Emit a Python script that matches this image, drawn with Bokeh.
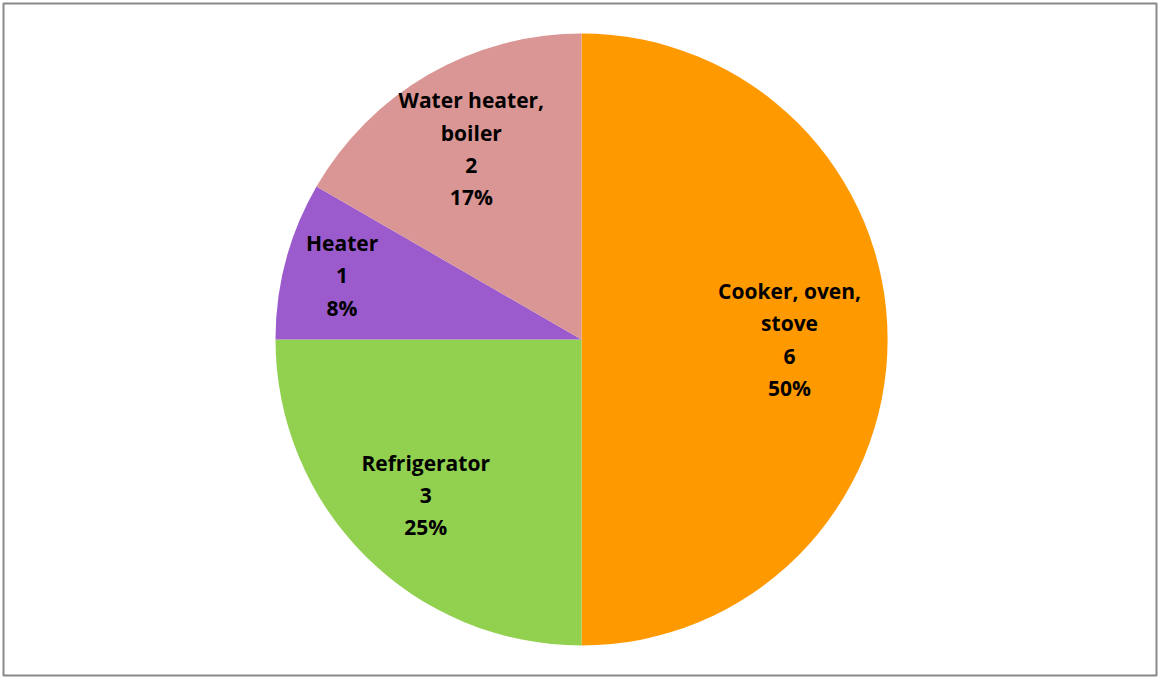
import numpy as np
from bokeh.plotting import figure
from bokeh.models import ColumnDataSource, Range1d, BoxAnnotation
from bokeh.core.properties import value
from bokeh.embed import file_html
from bokeh.resources import INLINE

categories = ["Cooker, oven,\nstove", "Refrigerator", "Heater", "Water heater,\nboiler"]
counts = [6, 3, 1, 2]
colors = ["#FF9900", "#92D050", "#9B5BCD", "#D99694"]
label_radius_frac = [0.68, 0.72, 0.81, 0.72]

W, H = 1158, 677
cx, cy, R = 581, 338, 306

vals = np.array(counts, dtype=float)
total = vals.sum()
frac = vals / total
# clockwise from 12 o'clock
ends = np.pi / 2 - 2 * np.pi * np.cumsum(frac)
starts = np.concatenate([[np.pi / 2], ends[:-1]])
mids = (starts + ends) / 2

pct = [f"{round(f * 100):d}%" for f in frac]
labels = [f"{c}\n{n}\n{p}" for c, n, p in zip(categories, counts, pct)]
lx = [cx + R * k * np.cos(m) for k, m in zip(label_radius_frac, mids)]
ly = [cy + R * k * np.sin(m) for k, m in zip(label_radius_frac, mids)]

src = ColumnDataSource(dict(start=ends, end=starts, color=colors,
                            x=[cx] * 4, y=[cy] * 4,
                            lx=lx, ly=ly, label=labels))

p = figure(frame_width=W, frame_height=H, output_backend="svg", toolbar_location=None,
           x_range=Range1d(0, W), y_range=Range1d(0, H), min_border=0)
p.axis.visible = False
p.grid.visible = False
p.outline_line_color = None
p.background_fill_color = "white"

border = BoxAnnotation(left=3, right=1156, bottom=2, top=674, fill_color=None,
                       fill_alpha=0, line_color="#898989", line_alpha=1.0, line_width=2)
p.add_layout(border)

p.wedge(x="x", y="y", radius=R, start_angle="start", end_angle="end",
        fill_color="color", line_color=None, source=src)
p.text(x="lx", y="ly", text="label", source=src, text_align="center",
       text_baseline="middle", text_font=value("Open Sans"), text_font_style="bold",
       text_font_size="21px", text_color="black", text_line_height=1.15)

open("out.html", "w").write(file_html(p, INLINE))
